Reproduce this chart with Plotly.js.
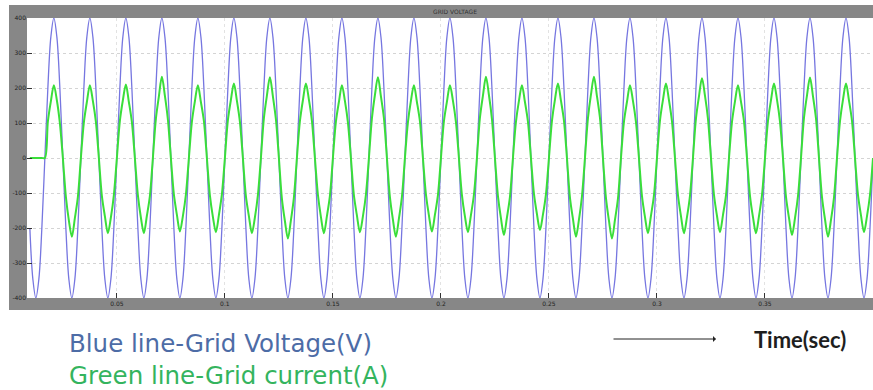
<!DOCTYPE html>
<html>
<head>
<meta charset="utf-8">
<script src="https://cdn.plot.ly/plotly-3.0.1.min.js"></script>
<style>html,body{margin:0;padding:0;background:#fff;}#chart{width:873px;height:390px;}</style>
</head>
<body>
<div id="chart"></div>
<script>
// ---- Data ----
const chartTitle = "GRID VOLTAGE";
const voltageLabel = "Blue line-Grid Voltage(V)";
const currentLabel = "Green line-Grid current(A)";
const timeLabel = "Time(sec)";

// uniform sampling grid of the scope record (12 samples per 60 Hz cycle)
const firstSampleSec = 7 / 720;
const sampleStepSec = 1 / 720;

const xTickVals = [0.05, 0.1, 0.15, 0.2, 0.25, 0.3, 0.35, 0.4];
const xTickText = ["0.05", "0.1", "0.15", "0.2", "0.25", "0.3", "0.35", "0.4"];
const yTickVals = [400, 300, 200, 100, 0, -100, -200, -300, -400];
const yTickText = ["400", "300", "200", "100", "0", "-100", "-200", "-300", "-400"];

// grid voltage (V), one value per sample
const gridVoltage = [
  -200,-346,-400,-346,-200,
  0,200,346,400,346,200,0,-200,-346,-400,-346,-200,
  0,200,346,400,346,200,0,-200,-346,-400,-346,-200,
  0,200,346,400,346,200,0,-200,-346,-400,-346,-200,
  0,200,346,400,346,200,0,-200,-346,-400,-346,-200,
  0,200,346,400,346,200,0,-200,-346,-400,-346,-200,
  0,200,346,400,346,200,0,-200,-346,-400,-346,-200,
  0,200,346,400,346,200,0,-200,-346,-400,-346,-200,
  0,200,346,400,346,200,0,-200,-346,-400,-346,-200,
  0,200,346,400,346,200,0,-200,-346,-400,-346,-200,
  0,200,346,400,346,200,0,-200,-346,-400,-346,-200,
  0,200,346,400,346,200,0,-200,-346,-400,-346,-200,
  0,200,346,400,346,200,0,-200,-346,-400,-346,-200,
  0,200,346,400,346,200,0,-200,-346,-400,-346,-200,
  0,200,346,400,346,200,0,-200,-346,-400,-346,-200,
  0,200,346,400,346,200,0,-200,-346,-400,-346,-200,
  0,200,346,400,346,200,0,-200,-346,-400,-346,-200,
  0,200,346,400,346,200,0,-200,-346,-400,-346,-200,
  0,200,346,400,346,200,0,-200,-346,-400,-346,-200,
  0,200,346,400,346,200,0,-200,-346,-400,-346,-200,
  0,200,346,400,346,200,0,-200,-346,-400,-346,-200,
  0,200,346,400,346,200,0,-200,-346,-400,-346,-200,
  0,200,346,400,346,200,0,-200,-346,-400,-346,-200,
  0,200,346,400,346,200,0,-200,-346,-400,-346,-200,
  0
];

// grid current (A), one value per sample
const gridCurrent = [
  0,0,0,0,0,
  0,104,162,208,165,100,0,-110,-178,-225,-172,-112,
  0,102,160,208,163,104,0,-108,-166,-215,-170,-106,
  0,106,165,210,160,103,0,-106,-170,-215,-165,-109,
  0,112,176,232,178,110,0,-104,-162,-210,-166,-105,
  0,103,162,208,160,106,0,-107,-168,-212,-163,-104,
  0,108,166,213,164,104,0,-109,-166,-215,-170,-106,
  0,114,178,231,176,111,0,-116,-180,-230,-178,-113,
  0,105,165,213,167,107,0,-105,-168,-215,-166,-108,
  0,104,160,208,163,102,0,-107,-164,-212,-167,-105,
  0,113,180,231,176,114,0,-112,-176,-225,-173,-111,
  0,102,163,208,160,105,0,-104,-164,-210,-162,-106,
  0,105,161,208,164,103,0,-106,-167,-212,-163,-105,
  0,115,178,232,180,112,0,-109,-172,-220,-170,-111,
  0,103,163,208,160,104,0,-102,-160,-206,-162,-104,
  0,106,167,213,164,107,0,-113,-174,-225,-176,-110,
  0,114,181,232,177,115,0,-114,-179,-230,-177,-116,
  0,104,160,208,163,103,0,-108,-168,-215,-165,-107,
  0,107,166,213,165,105,0,-106,-166,-215,-169,-108,
  0,113,176,228,178,112,0,-105,-165,-212,-163,-107,
  0,103,162,208,161,105,0,-108,-169,-215,-166,-106,
  0,106,165,213,167,104,0,-111,-171,-220,-172,-109,
  0,115,179,230,176,113,0,-112,-175,-225,-177,-113,
  0,105,167,213,164,106,0,-106,-164,-212,-166,-105,
  0
];

// ---- Build traces ----
const timeSec = gridVoltage.map((_, i) => firstSampleSec + i * sampleStepSec);

const traces = [
  {
    x: timeSec, y: gridVoltage, type: 'scatter', mode: 'lines',
    line: {color: '#7676e0', width: 1.3, shape: 'spline', smoothing: 1},
    hoverinfo: 'skip'
  },
  {
    x: timeSec, y: gridCurrent, type: 'scatter', mode: 'lines',
    line: {color: '#3ade3a', width: 2, shape: 'spline', smoothing: 0.9},
    hoverinfo: 'skip'
  }
];

// frame geometry helpers (paper coords; plot area is 846 x 280 px)
const PW = 846, PH = 280;
const px2x = p => (p - 27) / PW;
const px2y = p => (298 - p) / PH;
const frameGray = '#878787';

const legendText =
  '<span style="color:#4d6ca6">' + voltageLabel + '</span><br>' +
  '<span style="color:#34b45e">' + currentLabel + '</span>';

const layout = {
  width: 873, height: 390,
  margin: {l: 27, r: 0, t: 18, b: 92},
  paper_bgcolor: '#ffffff',
  plot_bgcolor: '#ffffff',
  showlegend: false,
  title: {
    text: chartTitle,
    font: {family: 'DejaVu Sans, sans-serif', size: 6, color: '#333'},
    x: 455 / 873, xanchor: 'center',
    y: 1 - 11.5 / 390, yanchor: 'middle', yref: 'container'
  },
  xaxis: {
    range: [0.0084, 0.4],
    tickvals: xTickVals, ticktext: xTickText,
    ticks: 'inside', ticklen: 5, tickcolor: '#333', tickwidth: 1,
    showgrid: true, gridcolor: '#e2e2e2', griddash: 'dot', gridwidth: 1,
    zeroline: false, showline: false,
    tickfont: {family: 'DejaVu Sans, sans-serif', size: 6, color: '#222'},
    ticklabelstandoff: 1
  },
  yaxis: {
    range: [-400, 400],
    tickvals: yTickVals, ticktext: yTickText,
    ticks: 'inside', ticklen: 5, tickcolor: '#333', tickwidth: 1,
    showgrid: true, gridcolor: '#d4d4d4', griddash: 'dot', gridwidth: 1,
    zeroline: false, showline: false,
    tickfont: {family: 'DejaVu Sans, sans-serif', size: 6, color: '#222'}
  },
  shapes: [
    {type: 'rect', xref: 'paper', yref: 'paper', x0: px2x(9), x1: px2x(880), y0: 1, y1: px2y(5),
     fillcolor: frameGray, line: {width: 0}, layer: 'below'},
    {type: 'rect', xref: 'paper', yref: 'paper', x0: px2x(9), x1: 0, y0: px2y(310), y1: px2y(5),
     fillcolor: frameGray, line: {width: 0}, layer: 'below'},
    {type: 'rect', xref: 'paper', yref: 'paper', x0: px2x(9), x1: px2x(880), y0: px2y(310), y1: 0,
     fillcolor: frameGray, line: {width: 0}, layer: 'below'}
  ],
  annotations: [
    {text: legendText, xref: 'paper', yref: 'paper', x: px2x(67), y: px2y(359),
     xanchor: 'left', yanchor: 'middle', align: 'left', showarrow: false,
     font: {family: 'DejaVu Sans, sans-serif', size: 24.5, color: '#4d6ca6'}},
    {text: '', xref: 'paper', yref: 'paper', x: px2x(716), y: px2y(339),
     ax: -104, ay: 0, showarrow: true, arrowhead: 1, arrowsize: 1, arrowwidth: 1, arrowcolor: '#222'},
    {text: '<b>' + timeLabel + '</b>', xref: 'paper', yref: 'paper', x: px2x(800), y: px2y(339),
     xanchor: 'center', yanchor: 'middle', showarrow: false,
     font: {family: 'Lato, sans-serif', size: 22, color: '#1e1e1e'}}
  ]
};

Plotly.newPlot('chart', traces, layout, {staticPlot: true, displayModeBar: false});
</script>
</body>
</html>
